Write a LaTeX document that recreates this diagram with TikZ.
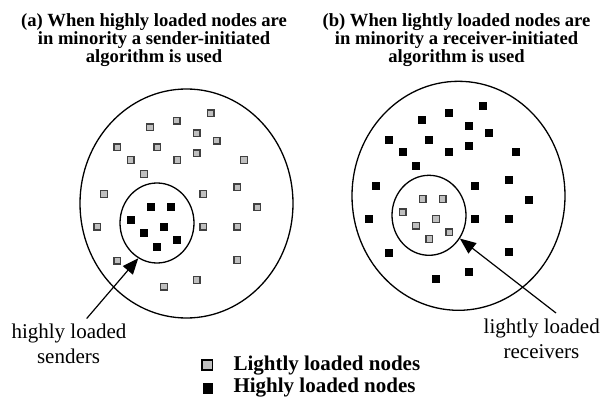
\documentclass[tikz,border=0pt]{standalone}
\usepackage{fontspec}
\setmainfont{Liberation Serif}
\usetikzlibrary{shapes.geometric,arrows.meta}
\tikzset{
  lsq/.style={rectangle, draw=black!75, fill=black!25, line width=1.3pt, minimum size=6.6pt, inner sep=0pt},
  hsq/.style={rectangle, fill=black, minimum size=8pt, inner sep=0pt},
  ring/.style={ellipse, draw, line width=1.3pt, inner sep=0pt},
  ptr/.style={line width=1.2pt, -{Triangle[length=16pt,width=13pt]}},
  ttl/.style={font=\fontsize{18.6}{18}\selectfont\bfseries, anchor=base, inner sep=0pt},
  lbl/.style={font=\fontsize{21}{23.4}\selectfont, anchor=base, inner sep=0pt},
  leg/.style={font=\fontsize{21}{24}\selectfont\bfseries, anchor=base west, inner sep=0pt},
}
\def\outerpts{210.7/113.3, 176.7/120.7, 150/127.3, 196.7/133.3, 216.7/140.7, 117.3/147.3, 157.3/147.3, 196.7/153.3, 130.7/160, 177.3/160, 244/160, 144/174, 104/194, 203.3/194, 237.3/187.3, 257.3/207.3, 97.3/226.7, 203.3/226.7, 237.3/226.7, 117.3/260.7, 237.3/260, 196.7/280, 164/286.7}
\def\innerpts{150.7/206.7, 170.7/206.7, 130.7/220, 164/226.7, 144/233.3, 177.3/240, 157.3/246.7}
\begin{document}
\begin{tikzpicture}[x=1pt,y=-1pt]
\useasboundingbox (0,0) rectangle (608,398);
% titles
\node[ttl] (ta1) at (154,26.5) {(a) When highly loaded nodes are};
\node[ttl] (ta2) at (154,44.5) {in minority a sender-initiated};
\node[ttl] (ta3) at (154,62.5) {algorithm is used};
\node[ttl] (tb1) at (456.5,26.5) {(b) When lightly loaded nodes are};
\node[ttl] (tb2) at (456.5,44.5) {in minority a receiver-initiated};
\node[ttl] (tb3) at (456.5,62.5) {algorithm is used};
% left panel
\node[ring, minimum width=213pt, minimum height=229pt] (bigA) at (186.5,203.5) {};
\node[ring, minimum width=74pt, minimum height=80pt] (inA) at (157,223) {};
\foreach \x/\y [count=\i] in \outerpts { \node[lsq] (la\i) at (\x,\y) {}; }
\foreach \x/\y [count=\i] in \innerpts { \node[hsq] (ha\i) at (\x,\y) {}; }
% right panel
\begin{scope}[shift={(272,-7.7)}]
\node[ring, minimum width=213pt, minimum height=229pt] (bigB) at (186.5,203.5) {};
\node[ring, minimum width=74pt, minimum height=80pt] (inB) at (157,223) {};
\foreach \x/\y [count=\i] in \outerpts { \node[hsq] (hb\i) at (\x,\y) {}; }
\foreach \x/\y [count=\i] in \innerpts { \node[lsq] (lb\i) at (\x,\y) {}; }
\end{scope}
% labels
\node[lbl] (la) at (69,338) {highly loaded};
\node[lbl] (lan) at (68.5,363) {senders};
\node[lbl] (lb) at (541.7,333.5) {lightly loaded};
\node[lbl] (lbn) at (541.5,358) {receivers};
\coordinate (sa) at (86.7,318.5);
\coordinate (sb) at (556,313);
\draw[ptr] (sa) -- (inA.242.5);
\draw[ptr] (sb) -- (inB.323.8);
% legend
\node[rectangle, draw=black, fill=black!25, line width=1.3pt, minimum size=10.2pt, inner sep=0pt] (kl) at (207.2,365) {};
\node[rectangle, fill=black, minimum size=10.6pt, inner sep=0pt] (kh) at (208,388.5) {};
\node[leg] (tl) at (233.3,370) {Lightly loaded nodes};
\node[leg] (th) at (233.3,392.5) {Highly loaded nodes};
\end{tikzpicture}
\end{document}
